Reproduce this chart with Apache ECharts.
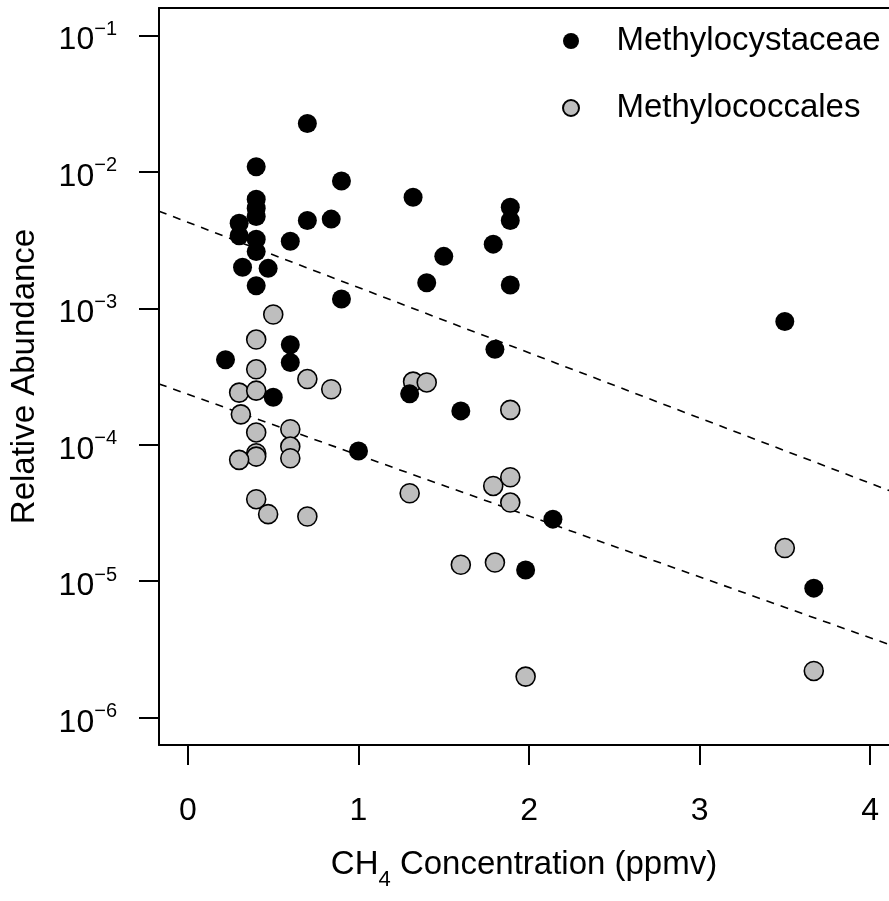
<!DOCTYPE html>
<html><head><meta charset="utf-8">
<script src="https://cdn.jsdelivr.net/npm/echarts@6/dist/echarts.min.js"></script>
<style>html,body{margin:0;padding:0;background:#fff}#c{width:889px;height:901px}</style>
</head><body><div id="c"></div>
<script>
// ---- data ----
const xTickValues = [0, 1, 2, 3, 4];
const yTickValues = [1e-6, 1e-5, 1e-4, 1e-3, 1e-2, 1e-1];
const seriesNames = ['Methylocystaceae', 'Methylococcales'];

// CH4 concentration (ppmv), relative abundance
const methylocystaceae = [
  [0.70, 0.0226], [0.40, 0.0109], [0.90, 0.00857], [0.40, 0.0063], [0.40, 0.0054],
  [0.40, 0.0047], [0.30, 0.0042], [0.30, 0.0034], [0.70, 0.0044], [0.84, 0.0045],
  [0.40, 0.0032], [0.40, 0.0026], [0.60, 0.0031], [0.32, 0.0020], [0.47, 0.00196],
  [0.40, 0.00146], [0.90, 0.00117], [0.60, 0.00054], [0.22, 0.00042], [0.60, 0.00040],
  [0.50, 0.000223], [1.00, 0.000090], [1.32, 0.0065], [1.89, 0.0055], [1.89, 0.0044],
  [1.79, 0.00295], [1.50, 0.0024], [1.40, 0.00154], [1.89, 0.00148], [1.80, 0.00050],
  [1.30, 0.000236], [1.60, 0.000177], [2.14, 0.0000285], [1.98, 0.0000121],
  [3.50, 0.00080], [3.67, 0.0000089]
];
const methylococcales = [
  [0.50, 0.00090], [0.40, 0.00059], [0.40, 0.000357], [0.70, 0.000303], [0.84, 0.000255],
  [0.30, 0.000241], [0.40, 0.000249], [0.31, 0.000167], [0.40, 0.000123], [0.60, 0.000130],
  [0.60, 0.000097], [0.40, 0.0000867], [0.40, 0.0000819], [0.30, 0.0000775], [0.60, 0.0000796],
  [0.40, 0.0000399], [0.47, 0.0000310], [0.70, 0.0000298], [1.32, 0.000290], [1.40, 0.000286],
  [1.89, 0.000180], [1.30, 0.0000441], [1.79, 0.0000499], [1.89, 0.0000578], [1.89, 0.0000377],
  [1.60, 0.0000132], [1.80, 0.0000137], [1.98, 0.0000020], [3.50, 0.0000175], [3.67, 0.0000022]
];
// dashed fit lines: end points
const fitCystaceae = [[-0.17, 0.00514], [4.16, 0.0000438]];
const fitCoccales = [[-0.17, 0.000279], [4.16, 0.00000327]];

// ---- chart ----
const FONT = "'Liberation Sans', Arial, sans-serif";
const X_MIN = -0.17, X_MAX = 4.111;
const chart = echarts.init(document.getElementById('c'), null, {renderer: 'canvas'});

const option = {
  animation: false,
  backgroundColor: '#fff',
  textStyle: {fontFamily: FONT, color: '#000'},
  grid: {left: 158, top: 8, right: 0, height: 737, show: false, containLabel: false},
  legend: {
    data: seriesNames,
    orient: 'vertical',
    left: 562, top: 23,
    padding: 0,
    itemWidth: 81, itemHeight: 16, itemGap: 31,
    selectedMode: false,
    textStyle: {fontFamily: FONT, fontSize: 33, color: '#000', lineHeight: 36}
  },
  xAxis: [{
    type: 'value',
    min: X_MIN, max: X_MAX,
    splitLine: {show: false},
    axisLine: {show: true, onZero: false, lineStyle: {color: '#000', width: 2}},
    axisTick: {show: true, length: 20, customValues: xTickValues, lineStyle: {color: '#000', width: 2}},
    axisLabel: {
      customValues: xTickValues, margin: 50,
      fontFamily: FONT, fontSize: 32, lineHeight: 32, color: '#000'
    },
    name: '{t|CH}{sub|4}{t| Concentration (ppmv)}',
    nameLocation: 'middle', nameGap: 102,
    nameTextStyle: {
      fontFamily: FONT, color: '#000',
      rich: {
        t: {fontFamily: FONT, fontSize: 33, lineHeight: 36, color: '#000'},
        sub: {fontFamily: FONT, fontSize: 22, lineHeight: 22, padding: [30, 0, 0, 0], color: '#000'}
      }
    }
  }, {
    type: 'value', position: 'top',
    min: X_MIN, max: X_MAX,
    splitLine: {show: false},
    axisLine: {show: true, onZero: false, lineStyle: {color: '#000', width: 2}},
    axisTick: {show: false},
    axisLabel: {show: false}
  }],
  yAxis: {
    type: 'log', logBase: 10,
    min: Math.pow(10, -6.2), max: Math.pow(10, -0.8),
    splitLine: {show: false},
    axisLine: {show: true, onZero: false, lineStyle: {color: '#000', width: 2}},
    axisTick: {show: true, length: 20, customValues: yTickValues, lineStyle: {color: '#000', width: 2}},
    axisLabel: {
      customValues: yTickValues, margin: 42,
      formatter: function (v) {
        const e = Math.round(Math.log10(v));
        return '{b|10}{s|' + (e < 0 ? '\u2212' : '') + Math.abs(e) + '}';
      },
      rich: {
        b: {fontFamily: FONT, fontSize: 32, lineHeight: 30, padding: [10, 0, 0, 0], color: '#000'},
        s: {fontFamily: FONT, fontSize: 20, lineHeight: 20, padding: [0, 0, 12, 0], color: '#000'}
      }
    },
    name: 'Relative Abundance',
    nameLocation: 'middle', nameRotate: 90, nameGap: 118,
    nameTextStyle: {fontFamily: FONT, fontSize: 33, color: '#000'}
  },
  series: [
    {
      name: 'fitCoccales', type: 'line', data: fitCoccales, symbol: 'none', silent: true,
      lineStyle: {color: '#000', width: 1.6, type: [8, 7]}, clip: true, z: 1
    },
    {
      name: 'fitCystaceae', type: 'line', data: fitCystaceae, symbol: 'none', silent: true,
      lineStyle: {color: '#000', width: 1.6, type: [8, 7]}, clip: true, z: 1
    },
    {
      name: 'Methylococcales', type: 'scatter', data: methylococcales,
      symbol: 'circle', symbolSize: 19,
      itemStyle: {color: '#BEBEBE', borderColor: '#000', borderWidth: 1.6, opacity: 1},
      emphasis: {disabled: true}, z: 2
    },
    {
      name: 'Methylocystaceae', type: 'scatter', data: methylocystaceae,
      symbol: 'circle', symbolSize: 19,
      itemStyle: {color: '#000', borderColor: '#000', borderWidth: 0, opacity: 1},
      emphasis: {disabled: true}, z: 3
    }
  ]
};
chart.setOption(option);
</script>
</body></html>
